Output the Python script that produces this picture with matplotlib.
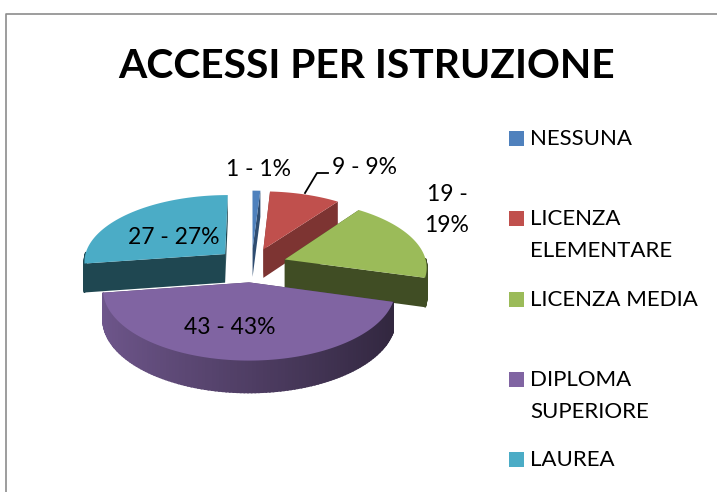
import numpy as np
import matplotlib
matplotlib.use("Agg")
import matplotlib.pyplot as plt
from matplotlib.patches import Polygon, Rectangle

title = "ACCESSI PER ISTRUZIONE"
categories = ["NESSUNA", "LICENZA\nELEMENTARE", "LICENZA MEDIA", "DIPLOMA\nSUPERIORE", "LAUREA"]
values = [1, 9, 19, 43, 27]
percents = [1, 9, 19, 43, 27]
colors = ["#4F81BD", "#C0504D", "#9BBB59", "#8064A2", "#4BACC6"]
wall_shade = [0.6, 0.65, 0.41, 0.6, 0.41]

plt.rcParams['font.family'] = ['Lato', 'DejaVu Sans']

# pie geometry, in pixels of the picture
cx, cy = 251.5, 265
rx, ry = 142, 68
persp = 0.10
depth = 29
explode = 0.25


def project(u, v, drop=0.0):
    s = 1 - persp * v
    return cx + rx * u * s, cy - ry * v * s + drop * (1 - 0.08 * v)


def shade(color, f):
    return tuple(c * f for c in matplotlib.colors.to_rgb(color))


fig = plt.figure(figsize=(7.17, 4.92), dpi=100)
ax = fig.add_axes([0, 0, 1, 1])
ax.set_xlim(0, 717)
ax.set_ylim(492, 0)
ax.axis("off")

# slice angles, clockwise from the top
edges = np.radians(np.cumsum([0] + values) / sum(values) * 360)


def draw_slice(i):
    a0, a1 = edges[i], edges[i + 1]
    mid = (a0 + a1) / 2
    ou, ov = explode * np.sin(mid), explode * np.cos(mid)
    angles = np.linspace(a0, a1, 120)
    us = ou + np.sin(angles)
    vs = ov + np.cos(angles)
    col = colors[i]

    # the two cut faces
    for a in (a0, a1):
        eu, ev = ou + np.sin(a), ov + np.cos(a)
        quad = [project(ou, ov), project(eu, ev), project(eu, ev, depth), project(ou, ov, depth)]
        ax.add_patch(Polygon(quad, closed=True, fc=shade(col, wall_shade[i]), ec="none", zorder=i_z[i]))

    # outer rim, only the big slice shows a left to right shading
    for k in range(len(angles) - 1):
        if np.cos(angles[k]) > 0.02:
            continue
        quad = [project(us[k], vs[k]), project(us[k + 1], vs[k + 1]),
                project(us[k + 1], vs[k + 1], depth), project(us[k], vs[k], depth)]
        f = wall_shade[i]
        if i == 3:
            f = 0.62 - 0.24 * np.sin(angles[k])
        fc = shade(col, f)
        ax.add_patch(Polygon(quad, closed=True, fc=fc, ec=fc, lw=1.2, zorder=i_z[i]))

    # top surface
    top = [project(ou, ov)] + [project(u, v) for u, v in zip(us, vs)]
    ax.add_patch(Polygon(top, closed=True, fc=col, ec="none", zorder=i_z[i] + 0.5))


# back to front
i_z = {0: 2, 1: 3, 4: 4, 2: 5, 3: 6}
for i in i_z:
    draw_slice(i)

# data labels
label_fs = 16.5
label_pos = [(258, 170), (365, 167), (447, 210), (230, 327), (174, 238)]
for i, (x, y) in enumerate(label_pos):
    txt = "%d - %d%%" % (values[i], percents[i])
    if i == 2:
        txt = "%d -\n%d%%" % (values[i], percents[i])
    ax.text(x, y, txt, fontsize=label_fs, color="black", ha="center", va="center", linespacing=1.55, zorder=10)
ax.plot([305, 317, 328], [193, 173, 173], color="black", lw=1.3, zorder=10)

ax.text(367, 66, title, fontsize=29.3, fontweight="bold", color="black", ha="center", va="center")

# legend
legend_fs = 16
legend_y = [138, 218, 299, 379, 459]
for name, col, y in zip(categories, colors, legend_y):
    ax.add_patch(Rectangle((509, y - 7.5), 15, 15, fc=col, ec="none"))
    ax.text(530, y - 9, name, fontsize=legend_fs, color="black", ha="left", va="top", linespacing=1.78)

# outer frame
ax.plot([5.5, 5.5, 717], [492, 13.5, 13.5], color="#8C8C8C", lw=1.2, clip_on=False)

fig.savefig("out.png", dpi=100)
